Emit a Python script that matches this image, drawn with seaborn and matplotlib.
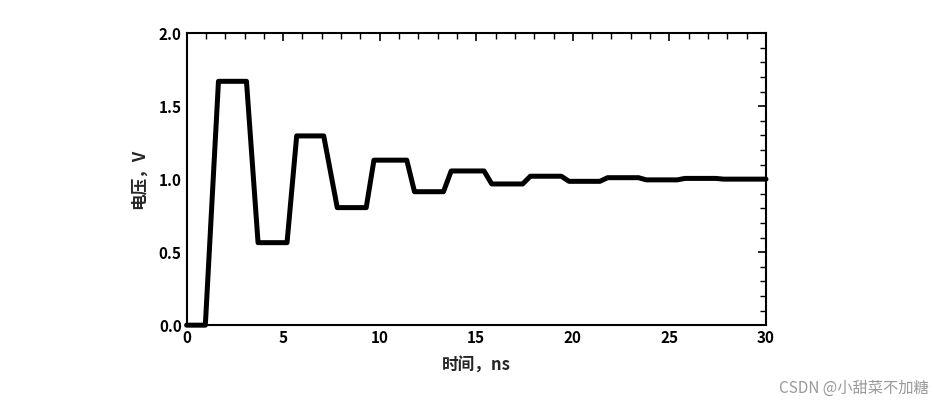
import numpy as np
import pandas as pd
import seaborn as sns
import matplotlib.pyplot as plt
from matplotlib.ticker import MultipleLocator

# breakpoints of the ringing waveform
time_ns = [0, 0.97, 1.65, 3.1, 3.7, 5.2, 5.7, 7.1, 7.8, 9.3, 9.7, 11.4, 11.8, 13.3,
           13.7, 15.4, 15.8, 17.4, 17.8, 19.4, 19.8, 21.4, 21.8, 23.4, 23.8, 25.4,
           25.8, 27.4, 27.8, 30]
voltage = [0, 0, 1.67, 1.67, 0.565, 0.565, 1.296, 1.296, 0.805, 0.805, 1.13, 1.13,
           0.914, 0.914, 1.056, 1.056, 0.967, 0.967, 1.02, 1.02, 0.985, 0.985,
           1.01, 1.01, 0.995, 0.995, 1.005, 1.005, 1.0, 1.0]

data = pd.DataFrame({'t': time_ns, 'v': voltage})

sns.set_theme(style='white')
plt.rcParams['font.family'] = ['Noto Sans CJK SC', 'DejaVu Sans']

fig = plt.figure(figsize=(9.33, 4.09), dpi=100)
ax = fig.add_axes([0.2, 0.205, 0.621, 0.714])
sns.lineplot(data=data, x='t', y='v', ax=ax, color='black', linewidth=3.6,
             solid_joinstyle='round', solid_capstyle='round', clip_on=False)

ax.set_xlim(0, 30)
ax.set_ylim(0, 2.0)
ax.xaxis.set_major_locator(MultipleLocator(5))
ax.xaxis.set_minor_locator(MultipleLocator(1))
ax.yaxis.set_major_locator(MultipleLocator(0.5))
ax.yaxis.set_minor_locator(MultipleLocator(0.1))
ax.set_yticks([0, 0.5, 1.0, 1.5, 2.0])
ax.set_yticklabels(['0.0', '0.5', '1.0', '1.5', '2.0'])
ax.tick_params(which='both', direction='in', top=True, right=True,
               labelsize=11, colors='black')
ax.tick_params(which='major', length=6, width=1.2)
ax.tick_params(which='minor', length=4, width=1)
for lab in ax.get_xticklabels() + ax.get_yticklabels():
    lab.set_fontweight('bold')
for s in ax.spines.values():
    s.set_color('black')
    s.set_linewidth(1.5)

ax.set_xlabel('时间，ns', fontsize=12, fontweight='bold', labelpad=8)
ax.set_ylabel('电压，V', fontsize=12, fontweight='bold', labelpad=8)

fig.text(0.995, 0.03, 'CSDN @小甜菜不加糖', ha='right', va='bottom',
         fontsize=11, color='#999999')

fig.savefig('out.png', dpi=100, facecolor='white')
